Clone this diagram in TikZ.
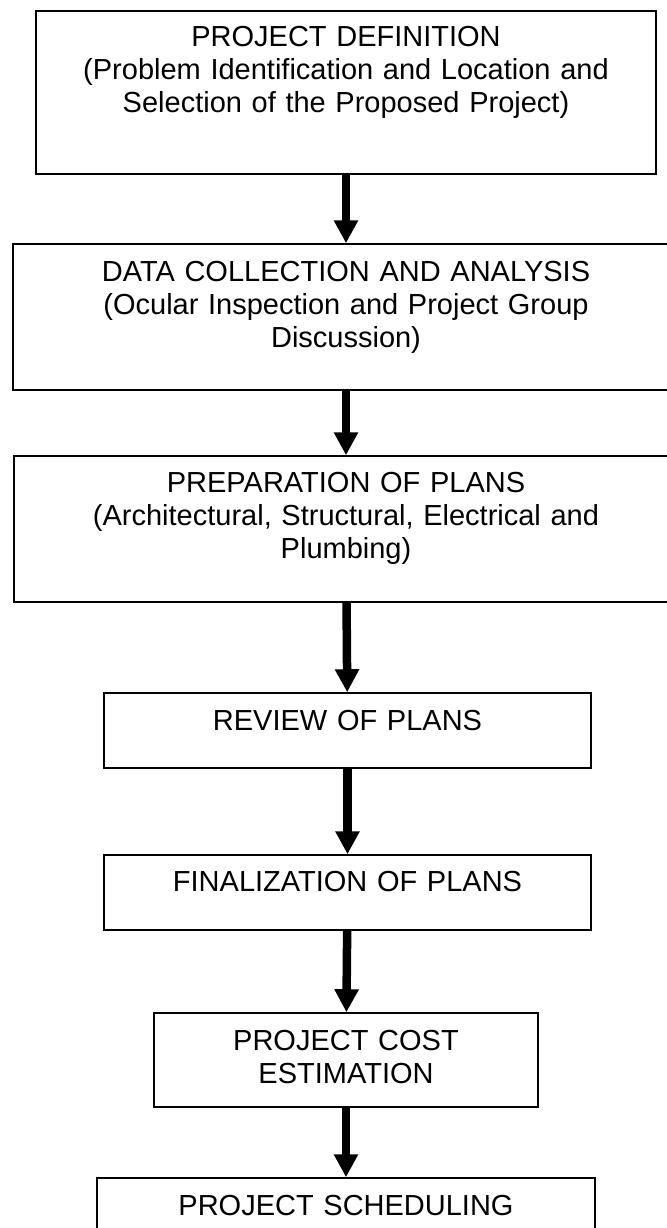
\documentclass[tikz,border=0pt]{standalone}
\usepackage{fontspec}
\setmainfont{Liberation Sans}
\usepackage{tikz}
\usetikzlibrary{positioning,calc,arrows.meta}

\begin{document}
\begin{tikzpicture}[
    x=0.5pt, y=-0.5pt,
    stage/.style={draw, line width=0.75pt, inner sep=0pt, fill=white},
    txt/.style={anchor=base,
                align=center,
                inner sep=0pt,
                font=\fontsize{14.5}{16.5}\selectfont},
    flow/.style={line width=4.25pt, -{Triangle[width=11.5pt,length=11.5pt]}}
]
\useasboundingbox (0,0) rectangle (666,1228);

% boxes
\node[stage, minimum width=310pt, minimum height=81.5pt] (def) at (346,92.5) {};
\node[stage, minimum width=333pt, minimum height=73pt] (data) at (346,317) {};
\node[stage, minimum width=332pt, minimum height=73pt] (plans) at (346,529) {};
\node[stage, minimum width=243.5pt, minimum height=37.5pt] (review) at (347.5,730.5) {};
\node[stage, minimum width=243.5pt, minimum height=37.5pt] (final) at (347.5,892.5) {};
\node[stage, minimum width=192pt, minimum height=47pt] (cost) at (346,1060) {};
\node[stage, minimum width=249pt, minimum height=47pt] (sched) at (346,1225) {};

% texts
\node[txt, text width=300pt] (deftxt) at ([yshift=-18pt]def.north)
    {PROJECT DEFINITION\\(Problem Identification and Location and\\Selection of the Proposed Project)};
\node[txt, text width=320pt] (datatxt) at ([yshift=-19pt]data.north)
    {DATA COLLECTION AND ANALYSIS\\(Ocular Inspection and Project Group\\Discussion)};
\node[txt, text width=320pt] (planstxt) at ([yshift=-18.5pt]plans.north)
    {PREPARATION OF PLANS\\(Architectural, Structural, Electrical and\\Plumbing)};
\node[txt, text width=230pt] (reviewtxt) at ([yshift=-19pt]review.north) {REVIEW OF PLANS};
\node[txt, text width=230pt] (finaltxt) at ([yshift=-18.5pt]final.north) {FINALIZATION OF PLANS};
\node[txt, text width=180pt] (costtxt) at ([yshift=-19pt]cost.north) {PROJECT COST\\ESTIMATION};
\node[txt, text width=240pt] (schedtxt) at ([yshift=-19pt]sched.north) {PROJECT SCHEDULING};

% arrows
\foreach \a/\b in {def/data, data/plans, plans/review, review/final, final/cost, cost/sched} {
    \draw[flow] (\a) -- (\b);
}
\end{tikzpicture}
\end{document}
